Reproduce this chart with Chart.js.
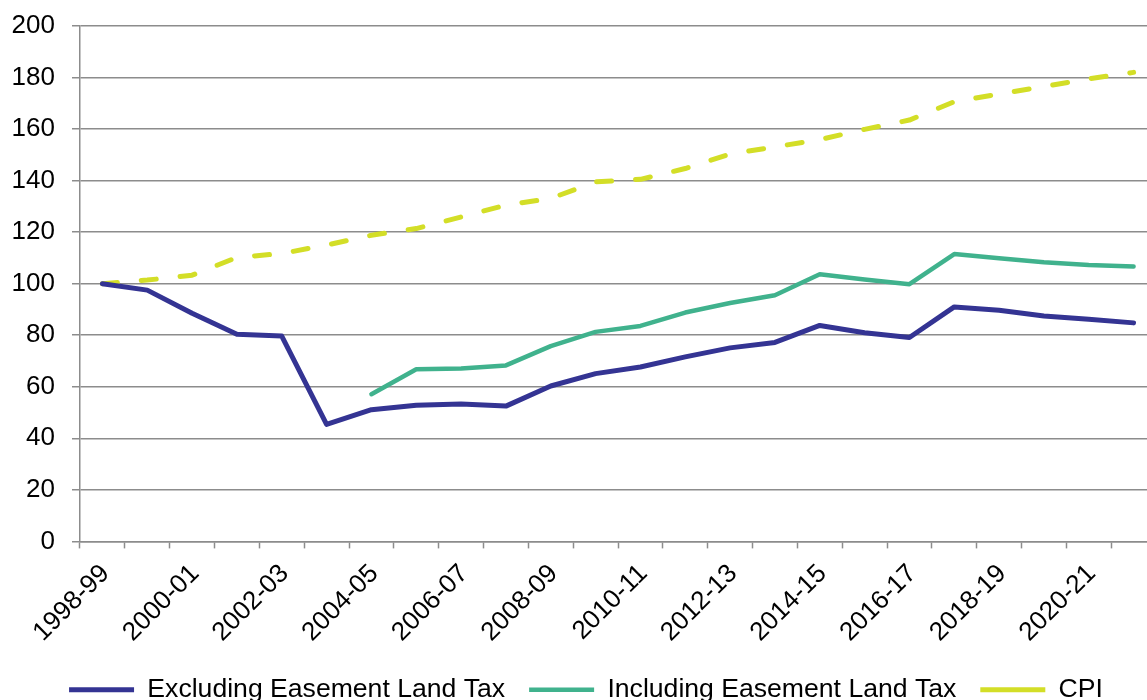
<!DOCTYPE html>
<html>
<head>
<meta charset="utf-8">
<script src="https://cdn.jsdelivr.net/npm/chart.js@4.4.0/dist/chart.umd.min.js"></script>
<style>
    html, body { margin: 0; padding: 0; background: #fff; overflow: hidden; }
    #wrap { width: 1172px; height: 713px; }
</style>
</head>
<body>
<div id="wrap"><canvas id="landTaxChart" width="1172" height="713"></canvas></div>
<script>
// --- DATA ---
const years = ['1998-99', '1999-00', '2000-01', '2001-02', '2002-03', '2003-04', '2004-05', '2005-06',
    '2006-07', '2007-08', '2008-09', '2009-10', '2010-11', '2011-12', '2012-13', '2013-14',
    '2014-15', '2015-16', '2016-17', '2017-18', '2018-19', '2019-20', '2020-21', '2021-22'];

const excludingEasement = [100, 97.5, 88.5, 80.4, 79.7, 45.4, 51.1, 52.8, 53.3, 52.5, 60.3, 65.1,
    67.7, 71.6, 75.1, 77.2, 83.8, 81.0, 79.1, 91.0, 89.7, 87.5, 86.2, 84.8];

const includingEasement = [null, null, null, null, null, null, 57.1, 66.8, 67.1, 68.3, 75.8, 81.3,
    83.6, 88.8, 92.5, 95.5, 103.7, 101.6, 99.8, 111.5, 109.9, 108.3, 107.3, 106.7];

const cpi = [100, 101.4, 103.3, 110.2, 111.7, 115.0, 118.8, 121.4, 125.9, 130.5, 133.1, 139.5,
    140.5, 144.7, 150.3, 153.1, 155.9, 159.9, 163.5, 170.6, 173.6, 176.5, 179.5, 182.0];

const seriesNames = ['Excluding Easement Land Tax', 'Including Easement Land Tax', 'CPI'];

// --- CHART ---
const FONT = 'Liberation Sans, Arial, sans-serif';
const GRID = '#8c8c8c';

function lineSet(label, data, color, width, dash) {
    return {
        label: label,
        data: data,
        borderColor: color,
        backgroundColor: color,
        borderWidth: width,
        borderDash: dash || [],
        borderCapStyle: 'round',
        borderJoinStyle: 'round',
        pointRadius: 0,
        pointHoverRadius: 0,
        tension: 0,
        fill: false
    };
}

const ctx = document.getElementById('landTaxChart').getContext('2d');
new Chart(ctx, {
    type: 'line',
    data: {
        labels: years,
        datasets: [
            lineSet(seriesNames[0], excludingEasement, '#343493', 5),
            lineSet(seriesNames[1], includingEasement, '#40b28d', 4.5),
            lineSet(seriesNames[2], cpi, '#d3de27', 5, [15, 24])
        ]
    },
    options: {
        responsive: false,
        animation: false,
        devicePixelRatio: 1,
        layout: { padding: { top: 26, right: 0, bottom: 0, left: 0 } },
        plugins: {
            tooltip: { enabled: false },
            legend: {
                position: 'bottom',
                labels: {
                    usePointStyle: true,
                    pointStyle: 'line',
                    pointStyleWidth: 65,
                    padding: 24,
                    color: '#000',
                    font: { family: FONT, size: 26.6 }
                }
            }
        },
        scales: {
            x: {
                offset: true,
                // fixed height, and keep the plot ending at 1156 so the legend centres like the original
                afterFit: (scale) => { scale.height = 111; scale.paddingTop = 0; scale.paddingRight = 16; },
                grid: {
                    offset: true,
                    drawOnChartArea: false,
                    drawTicks: true,
                    tickLength: 7,
                    tickWidth: 1.5,
                    tickColor: GRID
                },
                border: { color: GRID, width: 1.5 },
                ticks: {
                    autoSkip: false,
                    maxRotation: 45,
                    minRotation: 45,
                    padding: 10,
                    labelOffset: 3,
                    color: '#000',
                    font: { family: FONT, size: 26 },
                    callback: function (value, index) {
                        return index % 2 === 0 ? this.getLabelForValue(value) : '';
                    }
                }
            },
            y: {
                min: 0,
                max: 200,
                afterFit: (scale) => { scale.width = 80; scale.paddingTop = 6; },
                grid: {
                    color: GRID,
                    lineWidth: 1.5,
                    tickLength: 8
                },
                border: { color: GRID, width: 1.5 },
                ticks: {
                    stepSize: 20,
                    padding: 17,
                    color: '#000',
                    font: { family: FONT, size: 26 }
                }
            }
        }
    }
});
</script>
</body>
</html>
